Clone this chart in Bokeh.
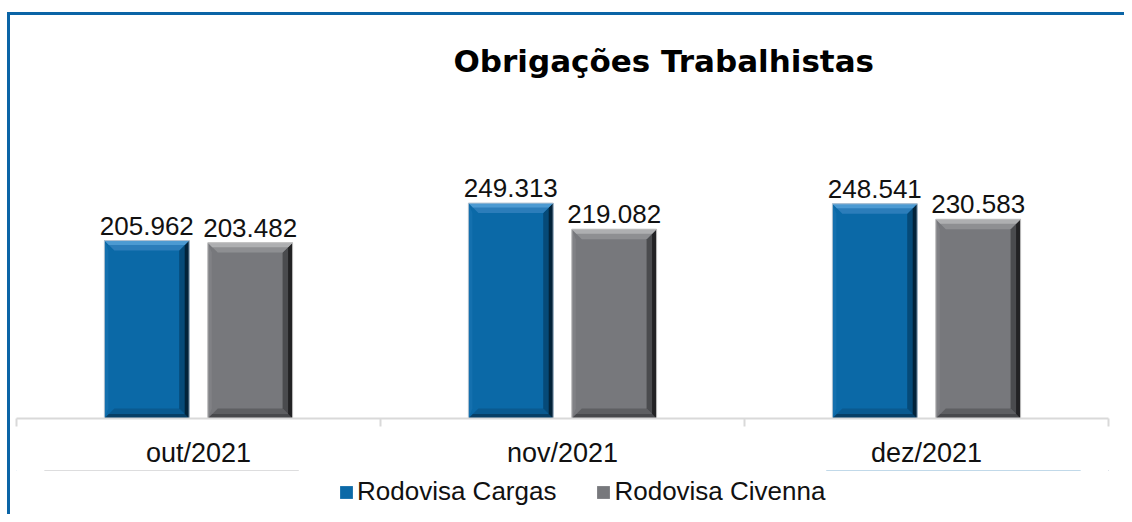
from bokeh.plotting import figure
from bokeh.layouts import column
from bokeh.models import (Range1d, FixedTicker, Legend, LegendItem, ColumnDataSource)
from bokeh.embed import file_html
from bokeh.resources import INLINE

# ---------------- data ----------------
months = ["out/2021", "nov/2021", "dez/2021"]
series_names = ["Rodovisa Cargas", "Rodovisa Civenna"]
cargas = [205962, 249313, 248541]
civenna = [203482, 219082, 230583]
title_text = "Obrigações Trabalhistas"

# ---------------- style ----------------
W = 1124
H_MAIN, H_LEG = 470, 44
MB_L, MB_R, MB_B, MB_T = 16, 16, 50, 83
Y_MAX = 387700
BAR_W = 0.233
OFFSET = 0.142
BEVEL_PX = 10
LABEL_GAP_PX = 15
BORDER = "#0A64A6"
TXT = "#111111"
FONT = "Liberation Sans"

styles = [
    dict(main="#0B69A7", top=("#2C7DBA", "#4C9AD2"), right=("#064A78", "#02233A"),
         bottom=("#0A5A90", "#073F66"), left="#1470AE", line="#B5C3D1"),
    dict(main="#77787C", top=("#8E8F92", "#AEAFB1"), right=("#4A4B4E", "#222224"),
         bottom=("#5E5F62", "#48494C"), left="#808185", line="#C4C4C4"),
]

frame_w = W - MB_L - MB_R
frame_h = H_MAIN - MB_T - MB_B
bx = BEVEL_PX * 3.0 / frame_w
by = BEVEL_PX * Y_MAX / frame_h
gap = LABEL_GAP_PX * Y_MAX / frame_h

p = figure(width=W, height=H_MAIN, output_backend="svg", toolbar_location=None,
           x_range=Range1d(-0.5, 2.5), y_range=Range1d(0, Y_MAX),
           min_border_left=MB_L, min_border_right=MB_R,
           min_border_bottom=MB_B, min_border_top=MB_T,
           y_axis_location=None, outline_line_color=None,
           border_fill_color=None, background_fill_color=None)
p.xgrid.grid_line_color = None
p.ygrid.grid_line_color = None


def bevels(xs, tops, depth):
    """Bevel facets of each bar at a given depth (fraction of BEVEL_PX)."""
    dx, dy = bx * depth, by * depth
    out = {"top": ([], []), "right": ([], []), "bottom": ([], []), "left": ([], [])}
    for x, t in zip(xs, tops):
        x0, x1 = x - BAR_W / 2, x + BAR_W / 2
        out["top"][0].append([x0, x1, x1 - dx, x0 + dx]); out["top"][1].append([t, t, t - dy, t - dy])
        out["right"][0].append([x1, x1, x1 - dx, x1 - dx]); out["right"][1].append([t, 0, dy, t - dy])
        out["bottom"][0].append([x0, x1, x1 - dx, x0 + dx]); out["bottom"][1].append([0, 0, dy, dy])
        out["left"][0].append([x0, x0, x0 + dx * 0.4, x0 + dx * 0.4]); out["left"][1].append([t, 0, dy, t - dy])
    return out


series_x = []
for s, (vals, st) in enumerate(zip([cargas, civenna], styles)):
    off = -OFFSET if s == 0 else OFFSET
    xs = [i + off for i in range(len(months))]
    series_x.append(xs)
    src = ColumnDataSource(dict(x=xs, top=vals, label_y=[v + gap for v in vals],
                                label=[f"{v:,}".replace(",", ".") for v in vals]))
    p.vbar(x="x", top="top", bottom=0, width=BAR_W, source=src,
           fill_color=st["main"], line_color=None)
    full = bevels(xs, vals, 1.0)
    half = bevels(xs, vals, 0.45)
    p.patches(*full["left"], fill_color=st["left"], line_color=None)
    for side in ("bottom", "right", "top"):
        p.patches(*full[side], fill_color=st[side][0], line_color=None)
        p.patches(*half[side], fill_color=st[side][1], line_color=None)
    p.vbar(x="x", top="top", bottom=0, width=BAR_W, source=src,
           fill_color=None, line_color=st["line"], line_width=1)
    p.text(x="x", y="label_y", text="label", source=src, text_align="center",
           text_baseline="alphabetic", text_color=TXT,
           text_font_size="26px", text_font={"value": FONT})

# x axis: labels at category centres, separator ticks between categories
ax = p.xaxis[0]
ax.ticker = FixedTicker(ticks=list(range(len(months))),
                        minor_ticks=[i - 0.5 for i in range(len(months) + 1)])
ax.major_label_overrides = {i: m for i, m in enumerate(months)}
ax.axis_line_color = "#D9D9D9"
ax.axis_line_width = 2
ax.major_tick_line_color = None
ax.minor_tick_line_color = "#D9D9D9"
ax.minor_tick_line_width = 2
ax.minor_tick_out = 8
ax.minor_tick_in = 0
ax.major_label_standoff = 11
ax.major_label_text_font = FONT
ax.major_label_text_font_size = "27px"
ax.major_label_text_color = TXT

p.title.text = title_text
p.title.text_font = "DejaVu Sans"
p.title.text_font_style = "bold"
p.title.text_font_size = "31px"
p.title.text_color = "#000000"
p.title.align = "left"
p.title.offset = 437

# legend strip below the axis (its own small canvas so that it is not clipped);
# its swatch renderers hold the series as zero-height bars far outside the strip's range
lf = figure(width=W, height=H_LEG, output_backend="svg", toolbar_location=None,
            x_range=Range1d(0, 1), y_range=Range1d(0, 1), min_border=0,
            x_axis_location=None, y_axis_location=None, outline_line_color=None,
            border_fill_color=None, background_fill_color=None)
lf.xgrid.grid_line_color = None
lf.ygrid.grid_line_color = None
swatches = [lf.vbar(x=xs, top=vals, bottom=vals, width=BAR_W,
                    fill_color=st["main"], line_color=None)
            for xs, vals, st in zip(series_x, [cargas, civenna], styles)]
legend = Legend(items=[LegendItem(label=n, renderers=[r]) for n, r in zip(series_names, swatches)],
                orientation="horizontal", location=(322, 7),
                border_line_color=None, background_fill_alpha=0,
                glyph_width=16, glyph_height=16, label_height=20, label_standoff=3, spacing=39,
                padding=0, margin=0,
                label_text_font=FONT, label_text_font_size="26px", label_text_color=TXT)
lf.add_layout(legend, "center")

grad = f"linear-gradient({BORDER}, {BORDER})"
layout = column(p, lf, spacing=0,
                styles={"background-image": f"{grad}, {grad}",
                        "background-size": "3px 100%, 100% 3px",
                        "background-position": "7px 12px, 7px 12px",
                        "background-repeat": "no-repeat"})

open("out.html", "w").write(file_html(layout, INLINE))
